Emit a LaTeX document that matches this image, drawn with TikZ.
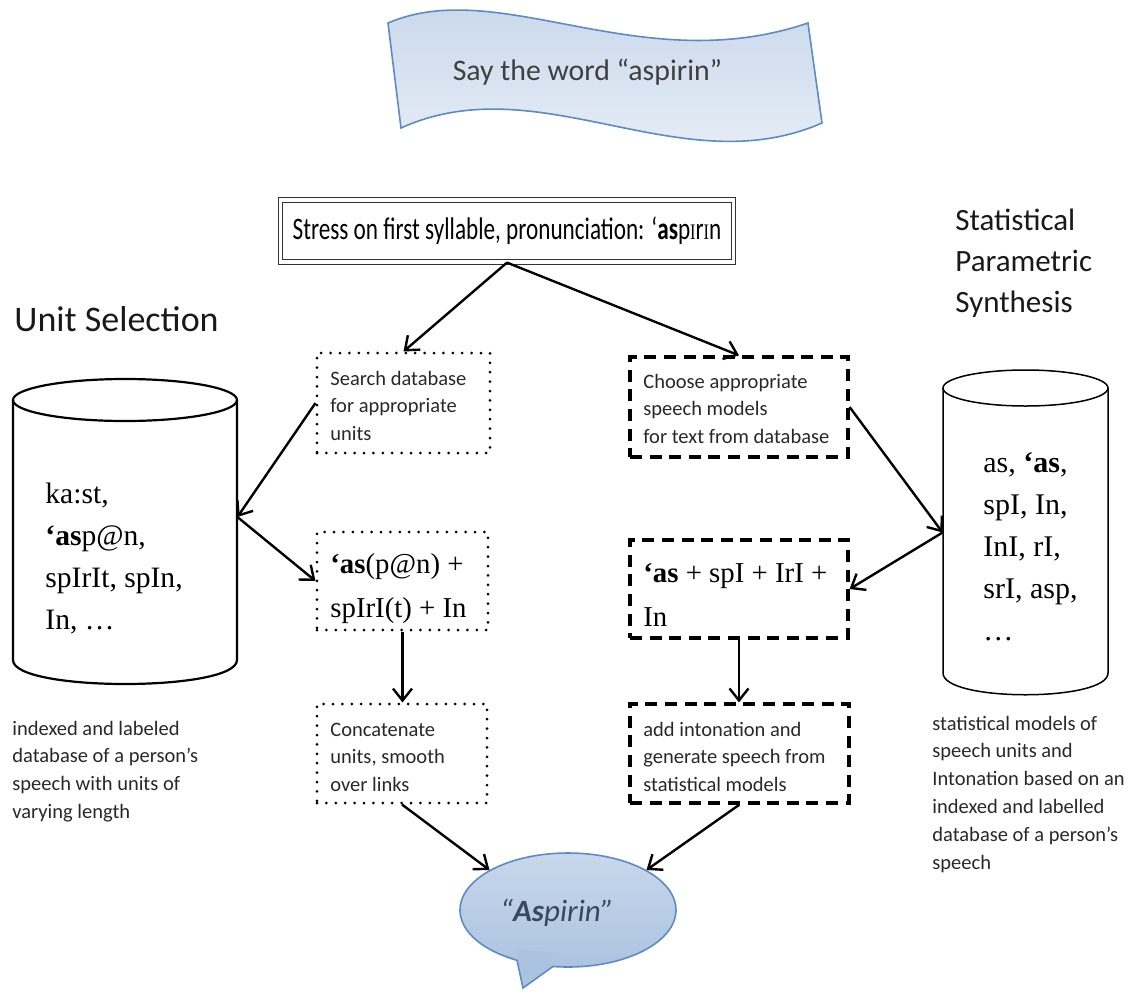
\documentclass[tikz,border=0pt]{standalone}
\usepackage{graphicx}
\usepackage{fontspec}
\setmainfont{Carlito}
\newfontfamily\tms{Liberation Serif}
\usetikzlibrary{arrows.meta,shapes.geometric}
\newcommand{\mylines}[1]{\begin{tabular}[t]{@{}l@{}}#1\end{tabular}}
\newcommand{\smI}{{\tms\fontsize{8.2}{8.2}\selectfont I}}
\definecolor{bannertop}{RGB}{197,213,234}
\definecolor{bannerbot}{RGB}{236,241,248}
\definecolor{blueline}{RGB}{93,139,196}
\definecolor{bannertext}{RGB}{64,64,64}
\definecolor{bubbletop}{RGB}{200,216,236}
\definecolor{bubblebot}{RGB}{172,195,224}
\definecolor{bubbletext}{RGB}{58,72,92}
\definecolor{smalltext}{RGB}{40,40,40}
\begin{document}
\begin{tikzpicture}[x=0.5pt,y=-0.5pt,
  conn/.style={line width=1.2pt,-{Straight Barb[length=6pt,width=9.5pt]}},
  dotbox/.style={draw, line width=1.5pt, dash pattern=on 0pt off 4.7pt, line cap=round, inner sep=0pt},
  dashbox/.style={draw, line width=1.6pt, dash pattern=on 6pt off 3.8pt, inner sep=0pt},
  smallsans/.style={inner sep=0pt, anchor=base west, text=smalltext, font=\fontsize{10.25}{13.9}\selectfont},
  serifbox/.style={inner sep=0pt, anchor=base west, font=\tms\fontsize{14.4}{22}\selectfont},
  serifcyl/.style={inner sep=0pt, anchor=base west, font=\tms\fontsize{14.8}{21}\selectfont},
  title/.style={inner sep=0pt, anchor=base west, text=black!90}
]
\useasboundingbox (0,0) rectangle (1137,992);

% banner
\path[draw=blueline, line width=0.8pt, top color=bannertop, bottom color=bannerbot]
  (388,23) .. controls (500,-25) and (640,80) .. (808,23) -- (822,123)
  .. controls (680,185) and (540,65) .. (401,128) -- cycle;
\node[inner sep=0pt, anchor=base, text=bannertext, font=\fontsize{14.9}{18}\selectfont] (banner) at (587.5,80) {Say the word “aspirin”};

% stress box
\node[draw=black!80, double=white, double distance=1.6pt, line width=0.6pt,
  minimum width=226.5pt, minimum height=31pt, inner sep=0pt,
  font=\fontsize{11.6}{14}\selectfont] (stress) at (507,231)
  {\scalebox{1}[1.35]{Stress on first syllable, pronunciation: ‘\textbf{as}p\smI{}r\smI{}n}};

% titles
\node[title, font=\fontsize{18}{21}\selectfont] (ustitle) at (14,331) {Unit Selection};
\node[title, font=\fontsize{15.5}{20.5}\selectfont] (spstitle) at (955,230) {\mylines{Statistical\\Parametric\\Synthesis}};

% left cylinder
\node[minimum width=112pt, minimum height=153pt, inner sep=0pt] (lcyl) at (125,531) {};
\draw[line width=1.1pt] (13,400) -- (13,660) .. controls (13,692) and (237,692) .. (237,660) -- (237,400);
\draw[line width=1.1pt] (125,400) ellipse [x radius=56pt, y radius=10.5pt];
\node[serifcyl] (lcyltxt) at (45,503) {\mylines{ka:st,\\\textbf{‘as}p@n,\\spIrIt, spIn,\\In, …}};

% right cylinder
\node[minimum width=82.5pt, minimum height=162.5pt, inner sep=0pt] (rcyl) at (1025.5,532.5) {};
\draw[line width=0.75pt] (943,388) -- (943,673) .. controls (943,702) and (1108,702) .. (1108,673) -- (1108,388);
\draw[line width=0.75pt] (1025.5,388) ellipse [x radius=41.25pt, y radius=9pt];
\node[serifcyl, font=\tms\fontsize{15}{21}\selectfont] (rcyltxt) at (983,472) {\mylines{as, \textbf{‘as},\\spI, In,\\InI, rI,\\srI, asp,\\…}};

% descriptions
\node[smallsans] (ldesc) at (12,735) {\mylines{indexed and labeled\\database of a person’s\\speech with units of\\varying length}};
\node[smallsans] (rdesc) at (932,730) {\mylines{statistical models of\\speech units and\\Intonation based on an\\indexed and labelled\\database of a person’s\\speech}};

% unit selection boxes
\node[dotbox, minimum width=86.5pt, minimum height=50pt] (search) at (403.5,403) {};
\node[smallsans] (searchtxt) at (330,385) {\mylines{Search database\\for appropriate\\units}};
\node[dotbox, minimum width=85.5pt, minimum height=49pt] (asl) at (402.5,581) {};
\node[serifbox] (asltxt) at (330,573) {\mylines{\textbf{‘as}(p@n) +\\spIrI(t) + In}};
\node[dotbox, minimum width=85pt, minimum height=49.5pt] (concat) at (402,753.5) {};
\node[smallsans] (concattxt) at (330,736) {\mylines{Concatenate\\units, smooth\\over links}};

% statistical boxes
\node[dashbox, minimum width=109pt, minimum height=50pt] (choose) at (739,407) {};
\node[smallsans] (choosetxt) at (643,388) {\mylines{Choose appropriate\\speech models\\for text from database}};
\node[dashbox, minimum width=109pt, minimum height=49pt] (asr) at (739,589) {};
\node[serifbox] (asrtxt) at (643,582) {\mylines{\textbf{‘as} + spI + IrI +\\In}};
\node[dashbox, minimum width=109.5pt, minimum height=49.5pt] (inton) at (739.5,753.5) {};
\node[smallsans] (intontxt) at (643,736) {\mylines{add intonation and\\generate speech from\\statistical models}};

% bubble
\node[ellipse, draw=blueline, line width=0.8pt, top color=bubbletop, bottom color=bubblebot,
  minimum width=108pt, minimum height=57pt, inner sep=0pt] (bubble) at (568,910) {};
\fill[bubblebot] (517,950) -- (517,960.2) -- (523,988) -- (553,966.4) -- (553,952) -- cycle;
\draw[blueline, line width=0.8pt] (517,960.2) -- (523,988) -- (553,966.4);
\node[inner sep=0pt, anchor=base, text=bubbletext, font=\itshape\fontsize{15.5}{18}\selectfont] (bubbletxt) at (557,921) {“\textbf{As}pirin”};

% connectors
\draw[conn] (stress.south) -- (search.north);
\draw[conn] (stress.south) -- (choose.north);
\draw[conn] (search.west) -- ([yshift=7pt]lcyl.east);
\draw[conn] ([yshift=7pt]lcyl.east) -- (asl.west);
\draw[conn] (asl.south) -- (asl.south |- concat.north);
\draw[conn] (concat.south) -- (bubble.153);
\draw[conn] (choose.east) -- (rcyl.west);
\draw[conn] (rcyl.west) -- (asr.east);
\draw[conn] (asr.south) -- (asr.south |- inton.north);
\draw[conn] (inton.south) -- (bubble.27);
\end{tikzpicture}
\end{document}
